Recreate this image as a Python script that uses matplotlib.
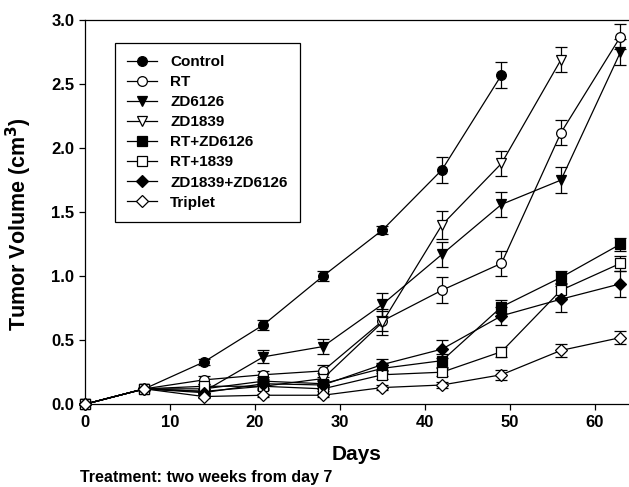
import matplotlib
matplotlib.use('Agg')
import matplotlib.pyplot as plt
import numpy as np

plt.rcParams['font.family'] = ['Liberation Sans', 'DejaVu Sans']
plt.rcParams['font.weight'] = 'bold'

days = [0, 7, 14, 21, 28, 35, 42, 49, 56, 63]

# mean tumour volume (cm3) and error per group
control = [0, 0.12, 0.33, 0.62, 1.00, 1.36, 1.83, 2.57]
control_err = [0, 0.01, 0.02, 0.04, 0.04, 0.03, 0.10, 0.10]
rt = [0, 0.12, 0.19, 0.23, 0.26, 0.65, 0.89, 1.10, 2.12, 2.87]
rt_err = [0, 0.01, 0.03, 0.03, 0.05, 0.08, 0.10, 0.10, 0.10, 0.10]
zd6126 = [0, 0.12, 0.10, 0.37, 0.45, 0.78, 1.17, 1.56, 1.75, 2.75]
zd6126_err = [0, 0.01, 0.02, 0.05, 0.06, 0.09, 0.10, 0.10, 0.10, 0.10]
zd1839 = [0, 0.12, 0.10, 0.14, 0.20, 0.64, 1.40, 1.88, 2.69]
zd1839_err = [0, 0.01, 0.02, 0.03, 0.04, 0.10, 0.11, 0.10, 0.10]
rt_zd6126 = [0, 0.12, 0.12, 0.18, 0.16, 0.28, 0.34, 0.76, 0.99, 1.25]
rt_zd6126_err = [0, 0.01, 0.02, 0.03, 0.03, 0.04, 0.05, 0.05, 0.05, 0.05]
rt_1839 = [0, 0.12, 0.14, 0.14, 0.12, 0.23, 0.25, 0.41, 0.89, 1.10]
rt_1839_err = [0, 0.01, 0.02, 0.02, 0.02, 0.03, 0.03, 0.04, 0.06, 0.06]
zd_combo = [0, 0.12, 0.09, 0.16, 0.15, 0.31, 0.43, 0.69, 0.82, 0.94]
zd_combo_err = [0, 0.01, 0.02, 0.03, 0.03, 0.04, 0.07, 0.07, 0.10, 0.10]
triplet = [0, 0.12, 0.06, 0.07, 0.07, 0.13, 0.15, 0.23, 0.42, 0.52]
triplet_err = [0, 0.01, 0.01, 0.01, 0.01, 0.02, 0.02, 0.04, 0.05, 0.05]

groups = [
    ('Control', control, control_err, 'o', 'black'),
    ('RT', rt, rt_err, 'o', 'white'),
    ('ZD6126', zd6126, zd6126_err, 'v', 'black'),
    ('ZD1839', zd1839, zd1839_err, 'v', 'white'),
    ('RT+ZD6126', rt_zd6126, rt_zd6126_err, 's', 'black'),
    ('RT+1839', rt_1839, rt_1839_err, 's', 'white'),
    ('ZD1839+ZD6126', zd_combo, zd_combo_err, 'D', 'black'),
    ('Triplet', triplet, triplet_err, 'D', 'white'),
]

fig = plt.figure(figsize=(6.29, 4.87), dpi=100)
ax = fig.add_axes([0.135, 0.170, 0.865, 0.789])

handles = []
labels = []
for label, vals, err, mk, fc in groups:
    x = days[:len(vals)]
    ms = 6.5 if mk == 'D' else 7
    eb = ax.errorbar(x, vals, yerr=err, color='black', lw=0.9, elinewidth=0.9,
                     capsize=4, capthick=0.9, marker=mk, ms=ms, mfc=fc,
                     mec='black', mew=0.9, clip_on=False, zorder=3)
    handles.append(eb[0])
    labels.append(label)

ax.set_xlim(0, 64)
ax.set_ylim(0, 3.0)
ax.set_xticks([0, 10, 20, 30, 40, 50, 60])
ax.set_yticks(np.arange(0, 3.01, 0.5))
ax.set_yticklabels(['%.1f' % v for v in np.arange(0, 3.01, 0.5)])
ax.tick_params(direction='out', length=4, width=0.9, labelsize=12,
               top=False, right=False)
ax.spines['right'].set_visible(False)
for s in ['left', 'bottom', 'top']:
    ax.spines[s].set_linewidth(0.9)

ax.set_xlabel('Days', fontsize=15, fontweight='bold', labelpad=11)
ax.set_ylabel('Tumor Volume (cm$^\\mathbf{3}$)', fontsize=15.5,
              fontweight='bold')
ax.yaxis.set_label_coords(-0.094, 0.47)

leg = ax.legend(handles, labels, loc='upper left',
                bbox_to_anchor=(0.055, 0.94), borderaxespad=0,
                fancybox=False, edgecolor='black', framealpha=1,
                fontsize=11, handlelength=2.0, labelspacing=0.4,
                borderpad=0.78, handletextpad=0.85)
leg.get_frame().set_linewidth(0.9)

fig.text(0.127, 0.0185, 'Treatment: two weeks from day 7', fontsize=11.5,
         fontweight='bold', va='center')

fig.savefig('out.png', dpi=100)
